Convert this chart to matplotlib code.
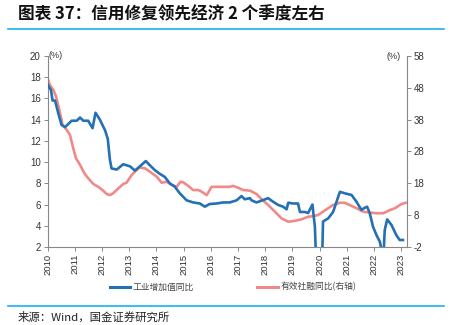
import matplotlib
matplotlib.use("Agg")
import matplotlib.pyplot as plt
from matplotlib.lines import Line2D

plt.rcParams['font.family'] = ['Liberation Sans', 'Noto Sans CJK SC', 'DejaVu Sans']

# ------------------------------------------------------------------
# Data (decimal year, value)
# industrial value added YoY, left axis (%)
ip_t = [2010.00, 2010.12, 2010.18, 2010.27, 2010.39, 2010.51, 2010.64, 2010.88,
        2011.07, 2011.19, 2011.31, 2011.49, 2011.65, 2011.76, 2011.92, 2012.11,
        2012.21, 2012.29, 2012.35, 2012.54, 2012.78, 2013.03, 2013.21, 2013.39,
        2013.61, 2013.76, 2013.94, 2014.12, 2014.31, 2014.49, 2014.67, 2014.86,
        2015.11, 2015.35, 2015.60, 2015.78, 2015.96, 2016.21, 2016.46, 2016.70,
        2016.95, 2017.13, 2017.25, 2017.44, 2017.50, 2017.68, 2017.87, 2018.11,
        2018.29, 2018.48, 2018.66, 2018.79, 2018.85, 2019.03, 2019.21, 2019.28,
        2019.46, 2019.58, 2019.74, 2019.83, 2019.93, 2020.06, 2020.13, 2020.32,
        2020.50, 2020.75, 2020.93, 2021.18, 2021.36, 2021.54, 2021.67, 2021.75,
        2021.85, 2021.97, 2022.10, 2022.22, 2022.30, 2022.36, 2022.40, 2022.49,
        2022.65, 2022.83, 2022.95, 2023.07]
ip_v = [17.3, 16.8, 15.8, 15.8, 14.6, 13.5, 13.3, 13.9,
        13.9, 14.2, 13.9, 13.9, 13.2, 14.65, 14.0, 13.0,
        12.2, 10.2, 9.4, 9.3, 9.8, 9.6, 9.2, 9.6,
        10.1, 9.7, 9.25, 8.9, 8.6, 8.0, 7.7, 7.06,
        6.4, 6.2, 6.1, 5.8, 6.05, 6.1, 6.2, 6.2,
        6.4, 6.8, 6.5, 6.6, 6.4, 6.2, 6.37, 6.6,
        6.27, 5.96, 5.8, 5.55, 6.17, 6.1, 6.1, 5.3,
        5.3, 5.2, 6.0, 3.9, -3.0, -3.0, 4.4, 4.7,
        5.3, 7.2, 7.06, 6.9, 6.27, 5.5, 5.7, 5.8,
        5.18, 3.9, 3.1, 2.5, 1.5, 1.5, 3.6, 4.6,
        4.07, 3.1, 2.66, 2.66]

# effective social financing YoY, right axis (%)
sf_t = [2010.00, 2010.08, 2010.21, 2010.31, 2010.43, 2010.55, 2010.70, 2010.82,
        2010.94, 2011.04, 2011.19, 2011.35, 2011.49, 2011.68, 2011.86, 2012.04,
        2012.17, 2012.29, 2012.41, 2012.60, 2012.78, 2012.90, 2013.09, 2013.27,
        2013.39, 2013.58, 2013.76, 2014.01, 2014.19, 2014.38, 2014.56, 2014.74,
        2014.89, 2014.99, 2015.17, 2015.35, 2015.54, 2015.66, 2015.85, 2016.03,
        2016.21, 2016.46, 2016.70, 2016.82, 2017.01, 2017.19, 2017.44, 2017.68,
        2017.87, 2018.11, 2018.36, 2018.60, 2018.85, 2019.09, 2019.34, 2019.58,
        2019.83, 2019.95, 2020.13, 2020.32, 2020.50, 2020.75, 2020.93, 2021.18,
        2021.36, 2021.60, 2021.85, 2022.10, 2022.34, 2022.59, 2022.78, 2022.96,
        2023.08, 2023.20]
sf_v = [51.0, 48.9, 47.3, 45.2, 41.0, 36.3, 34.8, 33.2,
        29.0, 25.9, 23.8, 21.15, 19.6, 17.8, 16.9, 15.7,
        14.65, 14.3, 14.9, 16.4, 17.8, 18.2, 20.6, 22.2,
        23.0, 22.7, 21.65, 20.1, 18.2, 18.5, 17.5, 16.9,
        18.5, 18.3, 17.2, 15.9, 15.9, 15.4, 14.3, 16.9,
        16.9, 16.9, 16.9, 17.2, 16.6, 15.9, 15.7, 14.65,
        13.0, 11.2, 9.1, 7.0, 5.95, 6.2, 6.7, 7.5,
        7.8, 8.05, 9.1, 10.2, 11.2, 11.9, 11.9, 10.9,
        10.2, 9.1, 8.8, 8.6, 8.6, 9.6, 10.2, 11.2,
        11.7, 11.9]

years = list(range(2010, 2024))
left_ticks = list(range(2, 21, 2))
right_ticks = list(range(-2, 59, 10))

blue = '#2470B5'
red = '#F08A88'
rule = '#19B2EE'
grey = '#888888'
txt = '#333333'

# ------------------------------------------------------------------
fig = plt.figure(figsize=(4.52, 3.25), dpi=100)

fig.text(0.040, 0.957, '图表 37：信用修复领先经济 2 个季度左右', family=['Noto Sans CJK SC'],
         fontsize=12, fontweight='bold', color='#111111', va='center', ha='left')
fig.add_artist(Line2D([0.018, 0.982], [0.911, 0.911], color=rule, lw=1.2))
fig.add_artist(Line2D([0.018, 0.982], [0.058, 0.058], color=rule, lw=1.2))
fig.text(0.038, 0.006, '来源：Wind，国金证券研究所', family=['Noto Sans CJK SC'],
         fontsize=8.2, color='#222222', va='bottom', ha='left')

ax = fig.add_axes([0.1055, 0.240, 0.7944, 0.5877])
ax2 = ax.twinx()

ax.plot(ip_t, ip_v, color=blue, lw=1.9, zorder=3)
ax2.plot(sf_t, sf_v, color=red, lw=1.9, zorder=2)
ax.set_zorder(ax2.get_zorder() + 1)
ax.patch.set_visible(False)

ax.set_xlim(2010.0, 2023.21)
ax.set_ylim(2, 20)
ax2.set_ylim(-2, 58)
ax.set_xticks(years)
ax.set_xticklabels([str(y) for y in years], rotation=90, fontsize=6.8, color=txt)
ax.set_yticks(left_ticks)
ax.set_yticklabels([str(v) for v in left_ticks], fontsize=7, color=txt)
ax2.set_yticks(right_ticks)
ax2.set_yticklabels([str(v) for v in right_ticks], fontsize=7, color=txt)

for a in (ax, ax2):
    a.spines['top'].set_visible(False)
    for side in ('left', 'right', 'bottom'):
        a.spines[side].set_color(grey)
        a.spines[side].set_linewidth(0.8)
    a.tick_params(length=3, width=0.7, color=grey, pad=2)
ax.spines['right'].set_visible(False)
ax2.spines['left'].set_visible(False)
ax2.spines['bottom'].set_visible(False)

ax.text(0.003, 1.0, '(%)', transform=ax.transAxes, fontsize=6.5, color=txt, ha='left', va='center')
ax2.text(0.982, 0.995, '(%)', transform=ax.transAxes, fontsize=6.5, color=txt, ha='right', va='center')

handles = [Line2D([], [], color=blue, lw=2.2), Line2D([], [], color=red, lw=2.2)]
fig.legend(handles, ['工业增加值同比', '有效社融同比(右轴)'], loc='center', ncol=2,
           bbox_to_anchor=(0.515, 0.117), frameon=False,
           handlelength=2.3, columnspacing=7.3, handletextpad=0.3,
           prop={'family': ['Noto Sans CJK SC'], 'size': 6.3}, labelcolor='#444444')

fig.savefig('out.png', dpi=100)
